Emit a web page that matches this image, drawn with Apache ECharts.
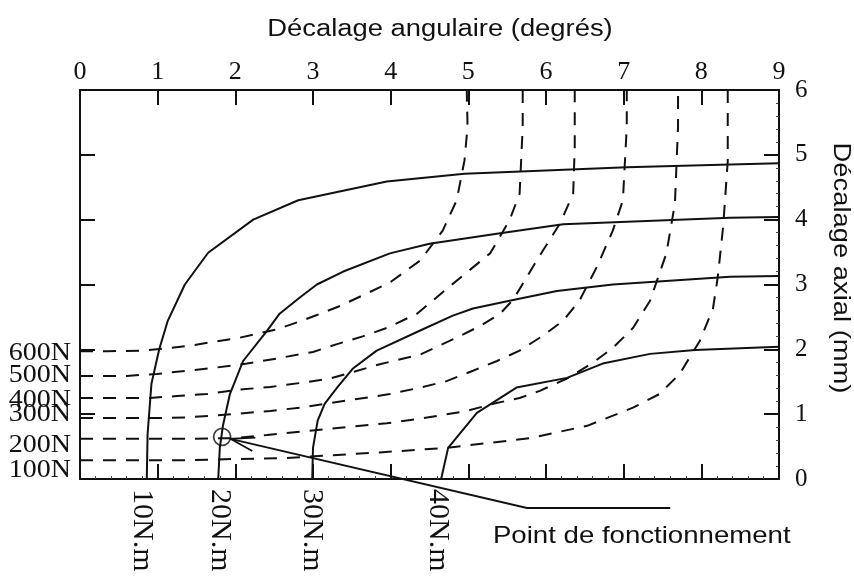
<!DOCTYPE html>
<html>
<head>
<meta charset="utf-8">
<script src="https://cdn.jsdelivr.net/npm/echarts@6/dist/echarts.min.js"></script>
<style>
  html, body { margin: 0; padding: 0; background: #fff; }
  #chart { width: 854px; height: 579px; }
</style>
</head>
<body>
<div id="chart"></div>
<script>
// Axis ranges (degrees on the top axis, millimetres on the right axis)
const angleTicks = [0, 1, 2, 3, 4, 5, 6, 7, 8, 9];
const axialTicks = [0, 1, 2, 3, 4, 5, 6];

// Constant-torque curves: [angular offset (deg), axial offset (mm)]
const torqueNames = ['10N.m', '20N.m', '30N.m', '40N.m'];
const torque10 = [[0.86, 0], [0.87, 0.69], [0.92, 1.47], [1.02, 2.0], [1.13, 2.44], [1.35, 3.0],
  [1.65, 3.49], [2.23, 4.0], [2.81, 4.30], [3.95, 4.59], [4.95, 4.71], [7.04, 4.81], [8.37, 4.85], [9, 4.87]];
const torque20 = [[1.78, 0], [1.80, 0.48], [1.84, 0.82], [1.93, 1.31], [2.10, 1.82], [2.41, 2.29], [2.57, 2.55],
  [2.83, 2.8], [3.05, 3.0], [3.39, 3.2], [3.99, 3.48], [4.5, 3.63], [5.41, 3.79], [6.22, 3.93], [8.37, 4.03], [9, 4.04]];
const torque30 = [[2.99, 0], [3.0, 0.48], [3.06, 0.9], [3.15, 1.16], [3.31, 1.41], [3.51, 1.7], [3.82, 1.98],
  [4.38, 2.29], [4.8, 2.52], [5.06, 2.63], [5.53, 2.75], [6.14, 2.9], [6.86, 3.0], [8.37, 3.12], [9, 3.13]];
const torque40 = [[4.65, 0], [4.74, 0.48], [5.11, 1.02], [5.62, 1.41], [6.27, 1.56], [6.73, 1.78], [7.34, 1.93],
  [7.92, 1.99], [9, 2.04]];

// Constant-load curves: [angular offset (deg), axial offset (mm)]
const loadNames = ['100N', '200N', '300N', '400N', '500N', '600N'];
const load100 = [[0, 0.29], [0.86, 0.29], [1.38, 0.29], [2.06, 0.31], [2.61, 0.32], [3.86, 0.41], [4.72, 0.48],
  [5.79, 0.63], [6.53, 0.82], [7.12, 1.1], [7.46, 1.31], [7.72, 1.62], [7.98, 2.13], [8.15, 2.63], [8.21, 3.1],
  [8.28, 3.88], [8.34, 4.9], [8.34, 6]];
const load200 = [[0, 0.62], [0.69, 0.62], [1.38, 0.62], [1.97, 0.63], [2.41, 0.68], [2.83, 0.73], [3.95, 0.86],
  [4.38, 0.93], [4.98, 1.05], [5.32, 1.16], [5.66, 1.25], [5.92, 1.36], [6.27, 1.55], [6.6, 1.79], [6.86, 2.02],
  [7.12, 2.33], [7.34, 2.75], [7.55, 3.48], [7.66, 4.25], [7.70, 5.43], [7.70, 6]];
const load300 = [[0, 0.94], [0.94, 0.94], [1.38, 0.95], [1.97, 1.0], [2.45, 1.05], [2.83, 1.1], [3.99, 1.31],
  [4.38, 1.41], [4.72, 1.51], [5.06, 1.67], [5.37, 1.82], [5.66, 1.98], [5.96, 2.21], [6.22, 2.44], [6.43, 2.75],
  [6.65, 3.26], [6.86, 3.83], [6.99, 4.3], [7.04, 5.43], [7.04, 6]];
const load400 = [[0, 1.25], [0.9, 1.25], [1.25, 1.28], [1.63, 1.31], [2.06, 1.38], [2.45, 1.42], [2.83, 1.48],
  [3.22, 1.55], [3.86, 1.77], [4.38, 1.92], [4.85, 2.18], [5.15, 2.36], [5.41, 2.55], [5.58, 2.77], [5.88, 3.37],
  [6.18, 3.94], [6.35, 4.4], [6.37, 5.12], [6.37, 6]];
const load500 = [[0, 1.59], [0.6, 1.59], [0.99, 1.62], [1.38, 1.67], [1.76, 1.72], [2.15, 1.78], [2.54, 1.86],
  [3.0, 1.96], [3.31, 2.08], [3.64, 2.2], [3.95, 2.33], [4.34, 2.55], [4.8, 3.01], [5.28, 3.48], [5.53, 3.99],
  [5.66, 4.4], [5.70, 5.43], [5.70, 6]];
const load600 = [[0, 1.97], [0.35, 1.97], [0.82, 1.98], [1.38, 2.05], [2.06, 2.18], [2.54, 2.31], [2.83, 2.43],
  [3.05, 2.53], [3.35, 2.67], [3.69, 2.86], [3.99, 3.03], [4.38, 3.37], [4.67, 3.83], [4.85, 4.3], [4.95, 4.91],
  [4.99, 5.43], [4.98, 6]];

// Operating point (20N.m torque under a 200N load)
const operatingPoint = [1.83, 0.65];

// Callout anchors, in axis units
const calloutElbow = [5.755, -0.447];
const calloutEnd = [7.6, -0.447];
const calloutText = [5.317, -0.88];

// Small layout nudges (px) for the curve name labels
const loadLabelNudge = [10, 7, -4, 2, 0, 2];
const torqueLabelNudge = [-5, 2, 0, -3];

const ink = '#111';
const serif = '"Liberation Serif", "Times New Roman", serif';
const sans = '"Liberation Sans", Arial, sans-serif';

const torqueData = [torque10, torque20, torque30, torque40];
const loadData = [load100, load200, load300, load400, load500, load600];

const chart = echarts.init(document.getElementById('chart'), null, { renderer: 'canvas' });

const axisLine = { show: true, onZero: false, lineStyle: { color: ink, width: 2 } };
const axisTick = { show: true, inside: true, length: 15, lineStyle: { color: ink, width: 2 } };
const minorTick = { show: true, splitNumber: 5, length: 3, lineStyle: { color: '#444', width: 1 } };

const series = [];
loadData.forEach((d, i) => series.push({
  name: loadNames[i], type: 'line', data: d, symbol: 'none', animation: false, z: 2,
  lineStyle: { color: ink, width: 2, type: [13, 10] }
}));
torqueData.forEach((d, i) => series.push({
  name: torqueNames[i], type: 'line', data: d, symbol: 'none', animation: false, z: 3,
  lineStyle: { color: ink, width: 2 }
}));
series.push({
  name: 'Point de fonctionnement', type: 'scatter', data: [operatingPoint], symbol: 'circle', symbolSize: 17,
  animation: false, z: 5, silent: true,
  itemStyle: { color: 'rgba(0,0,0,0)', borderColor: ink, borderWidth: 1.8 }
});

chart.setOption({
  animation: false,
  backgroundColor: '#fff',
  grid: { left: 80, right: 75, top: 90, bottom: 100, containLabel: false },
  xAxis: [
    {
      type: 'value', position: 'top', min: angleTicks[0], max: angleTicks[angleTicks.length - 1], interval: 1,
      axisLine, axisTick, splitLine: { show: false },
      axisLabel: { show: true, color: ink, fontFamily: serif, fontSize: 26, margin: 5 }
    },
    {
      type: 'value', position: 'bottom', min: angleTicks[0], max: angleTicks[angleTicks.length - 1], interval: 1,
      axisLine, axisTick, minorTick, splitLine: { show: false }, minorSplitLine: { show: false },
      axisLabel: { show: false }
    }
  ],
  yAxis: [
    {
      type: 'value', position: 'right', min: axialTicks[0], max: axialTicks[axialTicks.length - 1], interval: 1,
      axisLine, axisTick, minorTick, splitLine: { show: false }, minorSplitLine: { show: false },
      axisLabel: { show: true, color: ink, fontFamily: serif, fontSize: 25, margin: 16, padding: [12, 0, 0, 0] }
    },
    {
      type: 'value', position: 'left', min: axialTicks[0], max: axialTicks[axialTicks.length - 1], interval: 1,
      axisLine, axisTick, splitLine: { show: false },
      axisLabel: { show: false }
    }
  ],
  series
});

// Titles, curve names and the operating-point callout
const px = v => chart.convertToPixel({ seriesIndex: 0 }, v);
const graphics = [];

graphics.push({
  type: 'text', x: 440, y: 30, scaleX: 1.19, silent: true,
  style: { text: 'Décalage angulaire (degrés)', font: '23px ' + sans, fill: ink, align: 'center', verticalAlign: 'middle' }
});
graphics.push({
  type: 'text', x: 841, y: 268, rotation: -Math.PI / 2, scaleX: 1.14, silent: true,
  style: { text: 'Décalage axial (mm)', font: '24px ' + sans, fill: ink, align: 'center', verticalAlign: 'middle' }
});

const leftEdge = px([0, 0])[0];
loadData.forEach((d, i) => {
  const p = px(d[0]);
  graphics.push({
    type: 'text', x: leftEdge - 9, y: p[1] + loadLabelNudge[i], scaleX: 1.12, silent: true,
    style: { text: loadNames[i], font: '25px ' + serif, fill: ink, align: 'right', verticalAlign: 'middle' }
  });
});

const baseY = px([0, 0])[1];
torqueData.forEach((d, i) => {
  const p = px(d[0]);
  graphics.push({
    type: 'text', x: p[0] + torqueLabelNudge[i], y: baseY + 10, rotation: -Math.PI / 2, silent: true,
    style: { text: torqueNames[i], font: '30px ' + serif, fill: ink, align: 'left', verticalAlign: 'middle' }
  });
});

const C = px(operatingPoint);
const E = px(calloutElbow);
const F = px(calloutEnd);
const dx = E[0] - C[0], dy = E[1] - C[1];
const len = Math.hypot(dx, dy);
const ux = dx / len, uy = dy / len;
const r = 8.5;
const T = [C[0] + ux * r, C[1] + uy * r];
const headLen = 25, headAng = 16 * Math.PI / 180;
const rot = (a) => [T[0] + headLen * (ux * Math.cos(a) - uy * Math.sin(a)), T[1] + headLen * (ux * Math.sin(a) + uy * Math.cos(a))];
graphics.push({
  type: 'polyline', silent: true, z: 10,
  shape: { points: [T, E, F] },
  style: { stroke: ink, lineWidth: 1.8, fill: null }
});
graphics.push({
  type: 'polyline', silent: true, z: 10,
  shape: { points: [rot(headAng), T, rot(-headAng)] },
  style: { stroke: ink, lineWidth: 1.8, fill: null }
});
const tp = px(calloutText);
graphics.push({
  type: 'text', x: tp[0], y: tp[1], scaleX: 1.15, silent: true,
  style: { text: 'Point de fonctionnement', font: '24px ' + sans, fill: ink, align: 'left', verticalAlign: 'middle' }
});

chart.setOption({ graphic: { elements: graphics } });
</script>
</body>
</html>
